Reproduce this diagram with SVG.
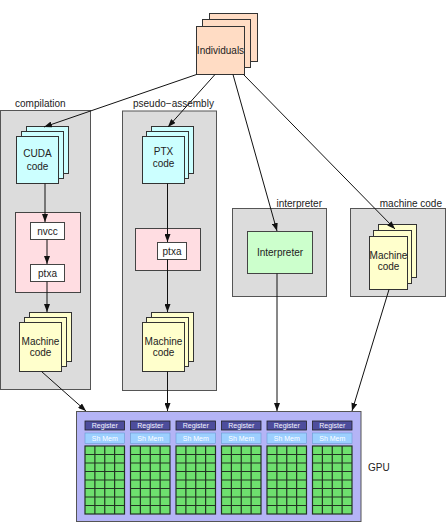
<svg xmlns="http://www.w3.org/2000/svg" xmlns:xlink="http://www.w3.org/1999/xlink" width="448" height="524" viewBox="0 0 448 524">
<style>
text{font-family:"Liberation Sans",Arial,sans-serif;fill:#222}
.lbl{font-size:10px}
.nt{font-size:10px;text-anchor:middle;font-family:"Liberation Sans Narrow","Liberation Sans",Arial,sans-serif}
.grp{fill:#dcdcdc;stroke:#555;stroke-width:1}
.cy{fill:#ccffff;stroke:#333;stroke-width:1}
.yl{fill:#ffffcc;stroke:#333;stroke-width:1}
.pk{fill:#ffdde2;stroke:#444;stroke-width:1}
.wh{fill:#fff;stroke:#444;stroke-width:1}
.pe{fill:#ffdcc4;stroke:#333;stroke-width:1}
.gr{fill:#ccffcc;stroke:#444;stroke-width:1}
.con{stroke:#111;stroke-width:1;fill:none;marker-end:url(#ah)}
.st{font-size:7px;text-anchor:middle;fill:#f4f4ff;font-family:"Liberation Sans Narrow","Liberation Sans",Arial,sans-serif}
</style>
<defs>
<marker id="ah" markerWidth="8" markerHeight="6" refX="8" refY="3" orient="auto" markerUnits="userSpaceOnUse">
<path d="M0,0 L8,3 L0,6 z" fill="#111"/>
</marker>
<g id="sm">
<rect x="0" y="0" width="39.5" height="9" fill="#4d4d9c" stroke="#222" stroke-width="0.8"/>
<text class="st" x="19.75" y="7">Register</text>
<rect x="0" y="12" width="39.5" height="10.5" fill="#9ccfff" stroke="#6a9ad0" stroke-width="0.6"/>
<text class="st" x="19.75" y="19.7" style="fill:#ffffff">Sh Mem</text>
<rect x="0" y="25" width="39.5" height="68" fill="#6ee06e" stroke="#223322" stroke-width="1.2"/>
<path d="M9.875,25V93M19.75,25V93M29.625,25V93M0,33.5H39.5M0,42H39.5M0,50.5H39.5M0,59H39.5M0,67.5H39.5M0,76H39.5M0,84.5H39.5" stroke="#223322" stroke-width="1.2" fill="none"/>
</g>
</defs>

<g id="compilation">
<rect class="grp" x="0.5" y="110.5" width="90" height="279"/>
<text class="lbl" x="15" y="107">compilation</text>
</g>
<g id="pseudo-assembly">
<rect class="grp" x="122.5" y="111" width="94" height="279.5"/>
<text class="lbl" x="133" y="107">pseudo−assembly</text>
</g>
<g id="interpreter-group">
<rect class="grp" x="232.5" y="208.5" width="94" height="88"/>
<text class="lbl" x="322" y="207" text-anchor="end">interpreter</text>
</g>
<g id="machine-code-group">
<rect class="grp" x="350.5" y="208.5" width="95" height="88"/>
<text class="lbl" x="442" y="207" text-anchor="end">machine code</text>
</g>

<g id="individuals">
<rect class="pe" x="209.5" y="13.5" width="48" height="48"/>
<rect class="pe" x="202.5" y="19.5" width="48" height="48"/>
<rect class="pe" x="196.5" y="26.5" width="48" height="48"/>
<text class="nt" x="220.5" y="54">Individuals</text>
</g>

<g id="cuda-code">
<rect class="cy" x="26.5" y="126.5" width="42" height="47"/>
<rect class="cy" x="21.5" y="131.5" width="42" height="47"/>
<rect class="cy" x="16.5" y="136.5" width="42" height="47"/>
<text class="nt" x="37.5" y="157">CUDA</text>
<text class="nt" x="37.5" y="170">code</text>
</g>

<g id="nvcc-ptxa">
<rect class="pk" x="15.5" y="212.5" width="65" height="80"/>
<rect class="wh" x="30.5" y="222.5" width="34" height="17"/>
<text class="nt" x="47.5" y="235">nvcc</text>
<rect class="wh" x="30.5" y="264.5" width="34" height="17"/>
<text class="nt" x="47.5" y="277">ptxa</text>
</g>

<g id="machine-code-1">
<rect class="yl" x="29.5" y="312.5" width="42" height="49"/>
<rect class="yl" x="24.5" y="317.5" width="42" height="49"/>
<rect class="yl" x="19.5" y="322.5" width="42" height="49"/>
<text class="nt" x="40.5" y="345">Machine</text>
<text class="nt" x="40.5" y="356">code</text>
</g>

<g id="ptx-code">
<rect class="cy" x="151.5" y="126.5" width="42" height="47"/>
<rect class="cy" x="146.5" y="131.5" width="42" height="47"/>
<rect class="cy" x="142.5" y="136.5" width="42" height="47"/>
<text class="nt" x="163.5" y="155">PTX</text>
<text class="nt" x="163.5" y="167">code</text>
</g>

<g id="ptxa-2">
<rect class="pk" x="135.5" y="228.5" width="65" height="42"/>
<rect class="wh" x="157.5" y="242.5" width="29" height="17"/>
<text class="nt" x="172" y="254.5">ptxa</text>
</g>

<g id="machine-code-2">
<rect class="yl" x="151.5" y="312.5" width="42" height="49"/>
<rect class="yl" x="146.5" y="317.5" width="42" height="49"/>
<rect class="yl" x="142.5" y="322.5" width="42" height="49"/>
<text class="nt" x="163.5" y="345">Machine</text>
<text class="nt" x="163.5" y="356">code</text>
</g>

<g id="interpreter">
<rect class="gr" x="247.5" y="231.5" width="65" height="42"/>
<text class="nt" x="280" y="256">Interpreter</text>
</g>

<g id="machine-code-3">
<rect class="yl" x="378.5" y="224.5" width="38" height="53"/>
<rect class="yl" x="373.5" y="230.5" width="38" height="53"/>
<rect class="yl" x="369.5" y="236.5" width="38" height="53"/>
<text class="nt" x="388.5" y="259">Machine</text>
<text class="nt" x="388.5" y="270">code</text>
</g>

<g id="gpu">
<rect x="76.5" y="411.5" width="284.5" height="110" fill="#b4b4f6" stroke="#555" stroke-width="1"/>
<use xlink:href="#sm" x="85" y="421"/>
<use xlink:href="#sm" x="130.5" y="421"/>
<use xlink:href="#sm" x="176" y="421"/>
<use xlink:href="#sm" x="221.5" y="421"/>
<use xlink:href="#sm" x="267" y="421"/>
<use xlink:href="#sm" x="312.5" y="421"/>
<text class="lbl" x="368" y="471">GPU</text>
</g>

<g id="connectors">
<line class="con" x1="196.5" y1="74.5" x2="44" y2="127"/>
<line class="con" x1="215" y1="74.5" x2="168" y2="127"/>
<line class="con" x1="233" y1="74.5" x2="277" y2="231"/>
<line class="con" x1="243.5" y1="74.5" x2="395" y2="229"/>
<line class="con" x1="45" y1="183.5" x2="45" y2="222"/>
<line class="con" x1="47" y1="239.5" x2="47" y2="264"/>
<line class="con" x1="47" y1="281.5" x2="47" y2="312"/>
<line class="con" x1="167.5" y1="183.5" x2="167.5" y2="242"/>
<line class="con" x1="167.5" y1="259.5" x2="167.5" y2="312"/>
<line class="con" x1="41.5" y1="371.5" x2="86" y2="411"/>
<line class="con" x1="167.5" y1="371.5" x2="167.5" y2="411"/>
<line class="con" x1="277" y1="273.5" x2="277" y2="411"/>
<line class="con" x1="389" y1="289.5" x2="352" y2="411"/>
</g>
</svg>
